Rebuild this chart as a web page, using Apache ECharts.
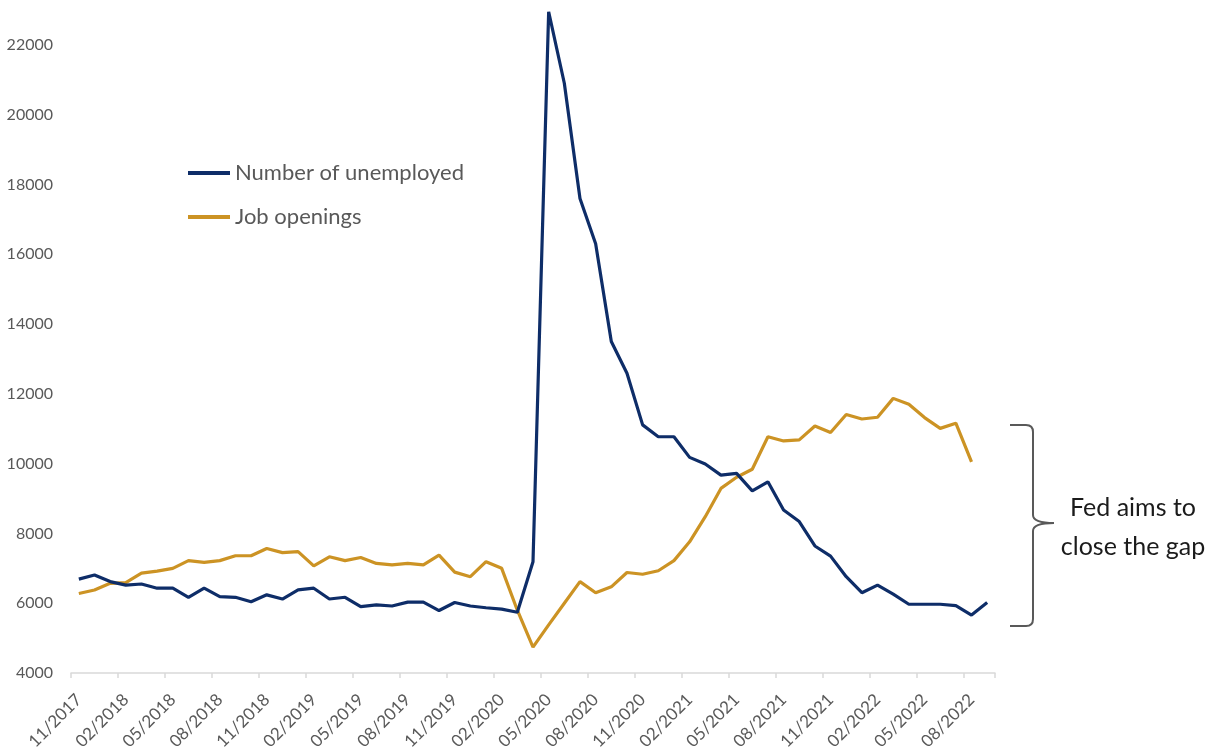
<!DOCTYPE html>
<html>
<head>
<meta charset="utf-8">
<title>Unemployed vs job openings</title>
<script src="https://cdn.jsdelivr.net/npm/echarts@6/dist/echarts.min.js"></script>
<style>
  html, body { margin: 0; padding: 0; background: #ffffff; }
  #chart { width: 1225px; height: 754px; }
</style>
</head>
<body>
<div id="chart"></div>
<script>
// Monthly observations, thousands of persons
const months = [
  '11/2017', '12/2017',
  '01/2018', '02/2018', '03/2018', '04/2018', '05/2018', '06/2018',
  '07/2018', '08/2018', '09/2018', '10/2018', '11/2018', '12/2018',
  '01/2019', '02/2019', '03/2019', '04/2019', '05/2019', '06/2019',
  '07/2019', '08/2019', '09/2019', '10/2019', '11/2019', '12/2019',
  '01/2020', '02/2020', '03/2020', '04/2020', '05/2020', '06/2020',
  '07/2020', '08/2020', '09/2020', '10/2020', '11/2020', '12/2020',
  '01/2021', '02/2021', '03/2021', '04/2021', '05/2021', '06/2021',
  '07/2021', '08/2021', '09/2021', '10/2021', '11/2021', '12/2021',
  '01/2022', '02/2022', '03/2022', '04/2022', '05/2022', '06/2022',
  '07/2022', '08/2022', '09/2022'
];

const unemployed = [
  6690, 6810, 6620, 6520, 6550, 6430, 6430, 6170, 6430, 6190,
  6170, 6040, 6240, 6120, 6380, 6430, 6120, 6170, 5900, 5950,
  5920, 6030, 6030, 5790, 6020, 5920, 5870, 5830, 5740, 7190,
  22950, 20900, 17600, 16300, 13500, 12590, 11110, 10770, 10770, 10180,
  9990, 9670, 9720, 9220, 9480, 8670, 8340, 7640, 7350, 6760,
  6300, 6520, 6260, 5970, 5970, 5970, 5930, 5660, 6020
];

const jobOpenings = [
  6280, 6380, 6570, 6590, 6860, 6920, 7000, 7220, 7170, 7220,
  7360, 7360, 7570, 7450, 7480, 7070, 7330, 7220, 7310, 7140,
  7100, 7140, 7100, 7380, 6890, 6760, 7190, 7000, 5800, 4740,
  5380, 6000, 6620, 6300, 6470, 6880, 6830, 6930, 7220, 7760,
  8480, 9290, 9610, 9840, 10770, 10650, 10680, 11080, 10890, 11410,
  11280, 11330, 11870, 11700, 11320, 11010, 11160, 10050, null
];

const seriesNames = ['Number of unemployed', 'Job openings'];
const noteLines = ['Fed aims to', 'close the gap'];

const NAVY = '#0e2d68';
const GOLD = '#cc9324';
const GREY = '#595959';
const FONT = 'Lato, "Open Sans", sans-serif';

// Right-hand curly brace next to the gap between the two series
const braceStyle = { stroke: GREY, lineWidth: 2, fill: 'none' };
function seg(x1, y1, x2, y2) {
  return { type: 'line', shape: { x1, y1, x2, y2 }, style: braceStyle, silent: true };
}
function curve(x1, y1, cx, cy, x2, y2) {
  return { type: 'bezierCurve', shape: { x1, y1, cpx1: cx, cpy1: cy, x2, y2 }, style: braceStyle, silent: true };
}
const brace = [
  seg(1010, 425, 1026, 425),
  curve(1026, 425, 1033, 425, 1033, 432),
  seg(1033, 432, 1033, 515),
  curve(1033, 515, 1033, 523, 1054, 523),
  curve(1054, 523, 1033, 523, 1033, 531),
  seg(1033, 531, 1033, 619),
  curve(1033, 619, 1033, 626, 1026, 626),
  seg(1026, 626, 1010, 626)
];

const chart = echarts.init(document.getElementById('chart'), null, { renderer: 'canvas' });

chart.setOption({
  animation: false,
  backgroundColor: '#ffffff',
  grid: { left: 71, right: 230, top: 10, bottom: 81, containLabel: false },
  legend: {
    orient: 'vertical',
    left: 183,
    top: 157,
    icon: 'rect',
    itemWidth: 42,
    itemHeight: 4,
    itemGap: 22,
    textStyle: { fontFamily: FONT, fontSize: 22, color: GREY, lineHeight: 22 },
    data: seriesNames
  },
  xAxis: {
    type: 'category',
    data: months,
    boundaryGap: true,
    axisLine: { show: true, lineStyle: { color: '#d9d9d9', width: 1.5 } },
    axisTick: { show: true, interval: 2, length: 5, lineStyle: { color: '#d9d9d9', width: 1.5 } },
    axisLabel: {
      interval: 2,
      rotate: 45,
      margin: 24,
      fontFamily: FONT,
      fontSize: 17,
      color: GREY
    },
    splitLine: { show: false }
  },
  yAxis: {
    type: 'value',
    min: 4000,
    max: 23000,
    interval: 2000,
    axisLine: { show: false },
    axisTick: { show: false },
    splitLine: { show: false },
    axisLabel: {
      showMaxLabel: false,
      margin: 18,
      fontFamily: FONT,
      fontSize: 16,
      color: GREY,
      formatter: function (v) { return String(v); }
    }
  },
  series: [
    {
      name: seriesNames[0],
      type: 'line',
      data: unemployed,
      symbol: 'none',
      color: NAVY,
      lineStyle: { color: NAVY, width: 3.2 },
      z: 3
    },
    {
      name: seriesNames[1],
      type: 'line',
      data: jobOpenings,
      symbol: 'none',
      color: GOLD,
      lineStyle: { color: GOLD, width: 3.2 },
      z: 2
    }
  ],
  graphic: brace.concat([
    {
      type: 'text',
      silent: true,
      style: {
        text: noteLines[0],
        x: 1133, y: 508,
        align: 'center', verticalAlign: 'middle',
        font: '25px ' + FONT, fill: '#1b1b1b'
      }
    },
    {
      type: 'text',
      silent: true,
      style: {
        text: noteLines[1],
        x: 1133, y: 547,
        align: 'center', verticalAlign: 'middle',
        font: '25px ' + FONT, fill: '#1b1b1b'
      }
    }
  ])
});
</script>
</body>
</html>
